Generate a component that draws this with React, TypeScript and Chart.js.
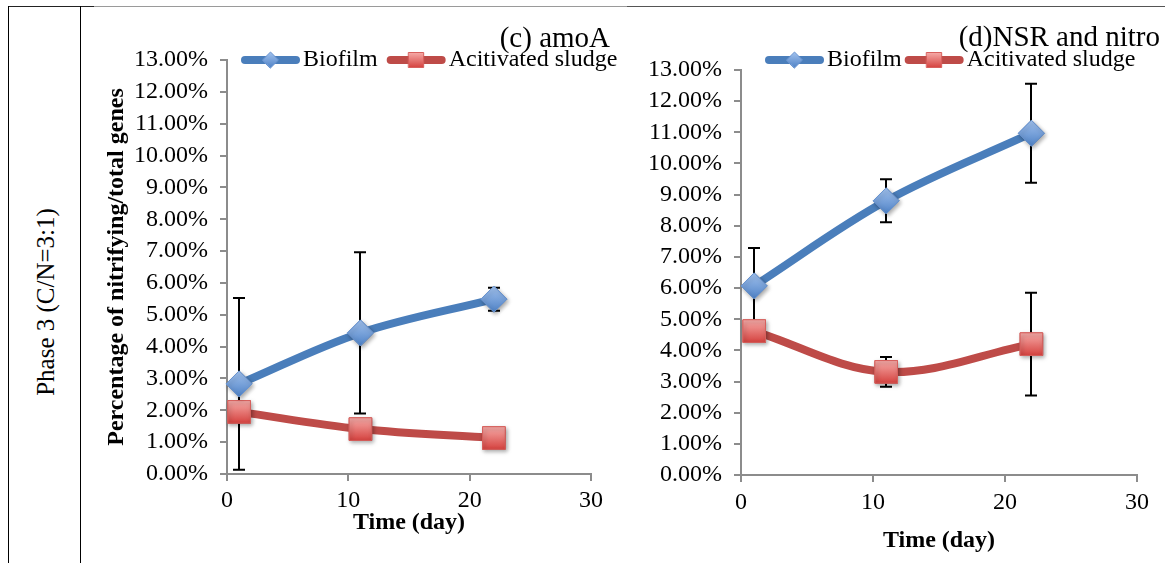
import React, { useEffect, useRef } from "react";
import { Chart, registerables } from "chart.js";

Chart.register(...registerables);

// ---------------- data ----------------
const days = [1, 11, 22];
const seriesNames = ["Biofilm", "Acitivated sludge"];

const amoaBiofilm = [2.83, 4.43, 5.49];
const amoaBiofilmErr = [2.7, 2.53, 0.36];
const amoaSludge = [1.95, 1.41, 1.13];
const amoaSludgeErr = [0, 0, 0];

const nsrBiofilm = [6.07, 8.8, 10.97];
const nsrBiofilmErr = [1.22, 0.69, 1.59];
const nsrSludge = [4.62, 3.31, 4.2];
const nsrSludgeErr = [0, 0.48, 1.65];

const xTickValues = [0, 10, 20, 30];
const yTickValues = [0, 1, 2, 3, 4, 5, 6, 7, 8, 9, 10, 11, 12, 13];

const panelTitles = ["(c) amoA", "(d)NSR and nitro"];
const yAxisTitle = "Percentage of nitrifying/total genes";
const xAxisTitle = "Time (day)";
const rowLabel = "Phase 3 (C/N=3:1)";

// ---------------- style ----------------
const SERIF = "'Liberation Serif', 'DejaVu Serif', serif";
const BLUE = "#4A7EBB";
const RED = "#BE4B48";
const AXIS = "#8C8C8C";
const BLUE_GRAD = ["#A2C2EE", "#4F82C6"];
const RED_GRAD = ["#F7AEAB", "#D43F3C"];
const TICK_SIZE = 24;

function markerGradient(colors: string[], half: number) {
  return (c: any) => {
    const chart = c.chart;
    if (c.type !== "data" || !chart.scales || !chart.scales.y) return colors[1];
    const py = chart.scales.y.getPixelForValue(c.parsed ? c.parsed.y : 0);
    if (!isFinite(py)) return colors[1];
    const g = chart.ctx.createLinearGradient(0, py - half, 0, py + half);
    g.addColorStop(0, colors[0]);
    g.addColorStop(1, colors[1]);
    return g;
  };
}

const errorBarPlugin = {
  id: "errorBars",
  beforeDatasetsDraw(chart: any) {
    const { ctx } = chart;
    const xs = chart.scales.x;
    const ys = chart.scales.y;
    ctx.save();
    ctx.strokeStyle = "#000";
    ctx.lineWidth = 2;
    chart.data.datasets.forEach((ds: any) => {
      const errs: number[] = ds.errors;
      if (!errs) return;
      ds.data.forEach((p: any, i: number) => {
        const e = errs[i];
        if (!e) return;
        const px = Math.round(xs.getPixelForValue(p.x));
        const yt = ys.getPixelForValue(p.y + e);
        const yb = ys.getPixelForValue(p.y - e);
        ctx.beginPath();
        ctx.moveTo(px, yt);
        ctx.lineTo(px, yb);
        ctx.moveTo(px - 6, yt);
        ctx.lineTo(px + 6, yt);
        ctx.moveTo(px - 6, yb);
        ctx.lineTo(px + 6, yb);
        ctx.stroke();
      });
    });
    ctx.restore();
  },
};

// redraw the markers with a soft drop shadow, as in the original
const markerShadowPlugin = {
  id: "markerShadow",
  afterDatasetDraw(chart: any, args: any) {
    const { ctx, chartArea } = chart;
    const meta = args.meta;
    ctx.save();
    ctx.shadowColor = "rgba(0,0,0,0.35)";
    ctx.shadowBlur = 4;
    ctx.shadowOffsetX = 1.5;
    ctx.shadowOffsetY = 2;
    meta.data.forEach((pt: any) => pt.draw(ctx, chartArea));
    ctx.restore();
  },
};

function drawLegendMarker(ctx: CanvasRenderingContext2D, style: string, x: number, y: number, colors: string[], border: string) {
  const g = ctx.createLinearGradient(0, y - 8, 0, y + 8);
  g.addColorStop(0, colors[0]);
  g.addColorStop(1, colors[1]);
  ctx.fillStyle = g;
  ctx.strokeStyle = border;
  ctx.lineWidth = 1;
  ctx.beginPath();
  if (style === "rectRot") {
    const r = 8;
    ctx.moveTo(x - r, y);
    ctx.lineTo(x, y - r);
    ctx.lineTo(x + r, y);
    ctx.lineTo(x, y + r);
    ctx.closePath();
  } else {
    const h = 7.5;
    ctx.rect(x - h, y - h, 2 * h, 2 * h);
  }
  ctx.fill();
  ctx.stroke();
}

const seriesLegendPlugin = {
  id: "seriesLegend",
  afterDraw(chart: any, _args: any, opts: any) {
    const { ctx, chartArea } = chart;
    let cx = chartArea.left + opts.offsetX;
    const cy = opts.y;
    ctx.save();
    ctx.font = `${TICK_SIZE}px ${SERIF}`;
    ctx.textBaseline = "middle";
    ctx.textAlign = "left";
    chart.data.datasets.forEach((ds: any) => {
      ctx.strokeStyle = ds.borderColor;
      ctx.lineWidth = 8;
      ctx.lineCap = "round";
      ctx.beginPath();
      ctx.moveTo(cx + 4, cy);
      ctx.lineTo(cx + 55, cy);
      ctx.stroke();
      drawLegendMarker(ctx, ds.pointStyle, cx + 29.5, cy, ds.legendGrad, ds.pointBorderColor);
      ctx.fillStyle = "#000";
      ctx.fillText(ds.label, cx + 62, cy);
      cx += 62 + ctx.measureText(ds.label).width + opts.gap;
    });
    ctx.restore();
  },
};

type Geom = {
  left: number;
  width: number;
  padRight: number;
  yWidth: number;
  rightWidth: number;
  titlePadTop: number;
  titlePadBottom: number;
  xHeight: number;
  xTickPad: number;
  xTitlePadBottom: number;
  legendOffsetX: number;
  legendY: number;
  legendGap: number;
  showYTitle: boolean;
};

const HEIGHT = 563;

function buildConfig(title: string, bio: number[], bioErr: number[], sl: number[], slErr: number[], g: Geom): any {
  return {
    type: "line",
    data: {
      datasets: [
        {
          label: seriesNames[0],
          data: days.map((d, i) => ({ x: d, y: bio[i] })),
          errors: bioErr,
          borderColor: BLUE,
          borderWidth: 8,
          tension: 0.35,
          fill: false,
          pointStyle: "rectRot",
          pointRadius: 13,
          pointBackgroundColor: markerGradient(BLUE_GRAD, 13),
          pointBorderColor: "#6893CF",
          pointBorderWidth: 1,
          legendGrad: BLUE_GRAD,
          xAxisID: "x",
          yAxisID: "y",
          clip: false,
        },
        {
          label: seriesNames[1],
          data: days.map((d, i) => ({ x: d, y: sl[i] })),
          errors: slErr,
          borderColor: RED,
          borderWidth: 8,
          tension: 0.35,
          fill: false,
          pointStyle: "rect",
          pointRadius: 16,
          pointBackgroundColor: markerGradient(RED_GRAD, 12),
          pointBorderColor: "#D7605D",
          pointBorderWidth: 1,
          legendGrad: RED_GRAD,
          xAxisID: "x",
          yAxisID: "y",
          clip: false,
        },
      ],
    },
    options: {
      responsive: false,
      animation: false,
      events: [],
      layout: { padding: { left: 0, right: g.padRight, top: 0, bottom: 0 } },
      plugins: {
        legend: { display: false },
        tooltip: { enabled: false },
        title: {
          display: true,
          text: title,
          align: "end",
          color: "#000",
          font: { family: SERIF, size: 29, weight: "normal", lineHeight: 1.2 },
          padding: { top: g.titlePadTop, bottom: g.titlePadBottom },
        },
        seriesLegend: { offsetX: g.legendOffsetX, y: g.legendY, gap: g.legendGap },
      },
      scales: {
        x: {
          type: "linear",
          position: "bottom",
          min: 0,
          max: 30,
          afterBuildTicks: (s: any) => {
            s.ticks = xTickValues.map((v) => ({ value: v }));
          },
          afterFit: (s: any) => {
            s.height = g.xHeight;
          },
          ticks: {
            color: "#000",
            font: { family: SERIF, size: TICK_SIZE },
            padding: g.xTickPad,
            maxRotation: 0,
            autoSkip: false,
          },
          grid: { drawOnChartArea: false, drawTicks: true, tickLength: 7, color: AXIS, lineWidth: 2 },
          border: { display: true, color: AXIS, width: 2 },
          title: {
            display: true,
            text: xAxisTitle,
            color: "#000",
            font: { family: SERIF, size: 24, weight: "bold", lineHeight: 1.2 },
            padding: { top: 0, bottom: g.xTitlePadBottom },
          },
        },
        y: {
          type: "linear",
          position: "left",
          min: 0,
          max: 13,
          afterBuildTicks: (s: any) => {
            s.ticks = yTickValues.map((v) => ({ value: v }));
          },
          afterFit: (s: any) => {
            s.width = g.yWidth;
          },
          ticks: {
            color: "#000",
            font: { family: SERIF, size: TICK_SIZE },
            padding: 12,
            autoSkip: false,
            callback: (v: any) => Number(v).toFixed(2) + "%",
          },
          grid: { drawOnChartArea: false, drawTicks: true, tickLength: 7, color: AXIS, lineWidth: 2 },
          border: { display: true, color: AXIS, width: 2 },
          title: {
            display: g.showYTitle,
            text: yAxisTitle,
            color: "#000",
            font: { family: SERIF, size: 24, weight: "bold", lineHeight: 1.2 },
            padding: { top: 6, bottom: 0 },
          },
        },
        y2: {
          type: "linear",
          position: "right",
          display: true,
          ticks: { display: false },
          grid: { display: false, drawTicks: false },
          border: { display: false },
          afterFit: (s: any) => {
            s.width = g.rightWidth;
          },
        },
      },
    },
    plugins: [errorBarPlugin, markerShadowPlugin, seriesLegendPlugin],
  };
}

function Panel(props: { title: string; bio: number[]; bioErr: number[]; sl: number[]; slErr: number[]; geom: Geom }) {
  const ref = useRef<HTMLCanvasElement | null>(null);
  useEffect(() => {
    if (!ref.current) return;
    const chart = new Chart(ref.current, buildConfig(props.title, props.bio, props.bioErr, props.sl, props.slErr, props.geom));
    return () => chart.destroy();
  }, []);
  const g = props.geom;
  return (
    <div style={{ position: "absolute", left: g.left, top: 0, width: g.width, height: HEIGHT }}>
      <canvas ref={ref} width={g.width} height={HEIGHT} style={{ display: "block", width: g.width, height: HEIGHT }} />
    </div>
  );
}

const geomC: Geom = {
  left: 96,
  width: 527,
  padRight: 13,
  yWidth: 131,
  rightWidth: 19,
  titlePadTop: 22,
  titlePadBottom: 3.2,
  xHeight: 89,
  xTickPad: 5,
  xTitlePadBottom: 26,
  legendOffsetX: 14,
  legendY: 60,
  legendGap: 9,
  showYTitle: true,
};

const geomD: Geom = {
  left: 630,
  width: 533,
  padRight: 3,
  yWidth: 111,
  rightWidth: 23,
  titlePadTop: 21,
  titlePadBottom: 14.2,
  xHeight: 88,
  xTickPad: 6,
  xTitlePadBottom: 8,
  legendOffsetX: 24,
  legendY: 60,
  legendGap: 3,
  showYTitle: false,
};

export default function App() {
  return (
    <div style={{ position: "absolute", left: 0, top: 0, width: 1165, height: HEIGHT, background: "#fff", overflow: "hidden" }}>
      {/* table borders */}
      <div style={{ position: "absolute", left: 8, top: 6, width: 86, height: 1, background: "#222" }} />
      <div style={{ position: "absolute", left: 94, top: 6, width: 533, height: 1, background: "#9a9a9a" }} />
      <div style={{ position: "absolute", left: 627, top: 6, width: 538, height: 1, background: "#555" }} />
      <div style={{ position: "absolute", left: 8, top: 6, width: 1, height: HEIGHT - 6, background: "#000" }} />
      <div style={{ position: "absolute", left: 80, top: 6, width: 1, height: HEIGHT - 6, background: "#000" }} />
      <div
        style={{
          position: "absolute",
          left: 45,
          top: 302,
          transform: "translate(-50%, -50%) rotate(-90deg)",
          whiteSpace: "nowrap",
          fontFamily: SERIF,
          fontSize: 25,
          color: "#000",
          lineHeight: 1,
        }}
      >
        {rowLabel}
      </div>
      <Panel title={panelTitles[0]} bio={amoaBiofilm} bioErr={amoaBiofilmErr} sl={amoaSludge} slErr={amoaSludgeErr} geom={geomC} />
      <Panel title={panelTitles[1]} bio={nsrBiofilm} bioErr={nsrBiofilmErr} sl={nsrSludge} slErr={nsrSludgeErr} geom={geomD} />
    </div>
  );
}
